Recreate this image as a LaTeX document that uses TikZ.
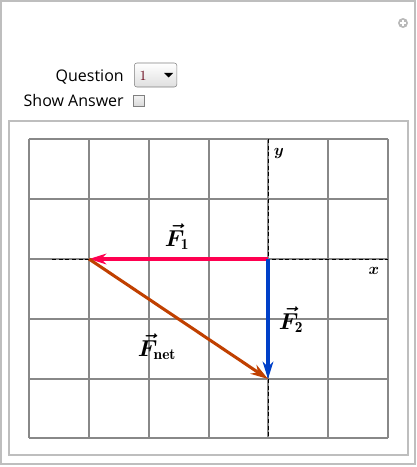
\documentclass[tikz,border=0pt]{standalone}
\usepackage{amsmath}
\usepackage{bm}
\usepackage{fontspec}
\setsansfont{Open Sans}
\usepackage{tikz}
\usetikzlibrary{arrows.meta,positioning,calc}

\definecolor{frame}{RGB}{190,190,190}
\definecolor{gridgray}{RGB}{136,136,136}
\definecolor{fone}{RGB}{255,0,80}
\definecolor{ftwo}{RGB}{0,64,200}
\definecolor{fnet}{RGB}{192,64,0}
\definecolor{qnum}{RGB}{100,0,20}

\newcommand{\forcevec}[1]{$\boldsymbol{\vec{F}}_{\mathbf{#1}}$}

\begin{document}
\begin{tikzpicture}[x=0.75pt,y=-0.75pt,
  gridline/.style={draw=gridgray,line width=1.1pt},
  axisline/.style={draw=black,dashed,line width=0.6pt,dash pattern=on 3pt off 2pt},
  force/.style={line width=2.3pt,-{Stealth[length=13pt,width=8pt,inset=4pt]}},
  uitext/.style={font=\sffamily\fontsize{12}{14}\selectfont,inner sep=0pt},
  flabel/.style={font=\fontsize{16.5}{18}\selectfont,inner sep=0pt},
  axlabel/.style={font=\fontsize{12.5}{14}\selectfont,inner sep=0pt}]
\useasboundingbox (0,0) rectangle (417,467);

% outer panel and controls
\draw[frame,line width=1pt] (1,1) rectangle (415,464);
\node[circle,fill=gray!55,inner sep=0pt,minimum size=7.5pt] (plus) at (403,23) {};
\draw[white,line width=1.2pt] ($(plus)+(-3,0)$) -- ($(plus)+(3,0)$)
  ($(plus)+(0,-3)$) -- ($(plus)+(0,3)$);

\node[uitext,anchor=base east] (quest) at (124,81) {Question};
\node[uitext,anchor=base east] (show) at (124,106) {Show Answer};
\node[draw=gray,rounded corners=2pt,top color=white,bottom color=gray!25,
  minimum width=32pt,minimum height=18pt,inner sep=0pt,anchor=west] (menu) at (134,75) {};
\node[font=\fontsize{10.5}{12}\selectfont,text=qnum,inner sep=0pt] (qval) at (143,76) {1};
\fill ($(menu.east)+(-13,-2)$) -- ++(9,0) -- ++(-4.5,4.5) -- cycle;
\node[draw=gray,top color=gray!10,bottom color=gray!30,minimum size=8pt,
  inner sep=0pt] (answer) at (138.5,101) {};

% inner panel
\draw[frame,line width=0.8pt] (9,121) rectangle (408,455);

% grid
\foreach \i in {29,89,149,209,268,328,388}
  \draw[gridline] (\i,139) -- (\i,438);
\foreach \j in {139,199,259,319,379,438}
  \draw[gridline] (29,\j) -- (388,\j);

% axes
\coordinate (xl) at (52,259);
\coordinate (xr) at (388,259);
\coordinate (yt) at (268,139);
\coordinate (yb) at (268,438);
\draw[axisline] (xl) -- (xr);
\draw[axisline] (yt) -- (yb);
\node[axlabel] (ylab) at (279,153) {$\bm{y}$};
\node[axlabel] (xlab) at (374,271) {$\bm{x}$};

% forces
\coordinate (o) at (268,259);
\coordinate (a) at (89,259);
\coordinate (b) at (268,379);
\draw[force,fone] (o) -- (a);
\draw[force,ftwo] (o) -- (b);
\draw[force,fnet] (a) -- (b);

\node[flabel] (f1) at (177,237) {\forcevec{1}};
\node[flabel] (f2) at (291,320) {\forcevec{2}};
\node[flabel] (fn) at (157,347) {\forcevec{net}};
\end{tikzpicture}
\end{document}
